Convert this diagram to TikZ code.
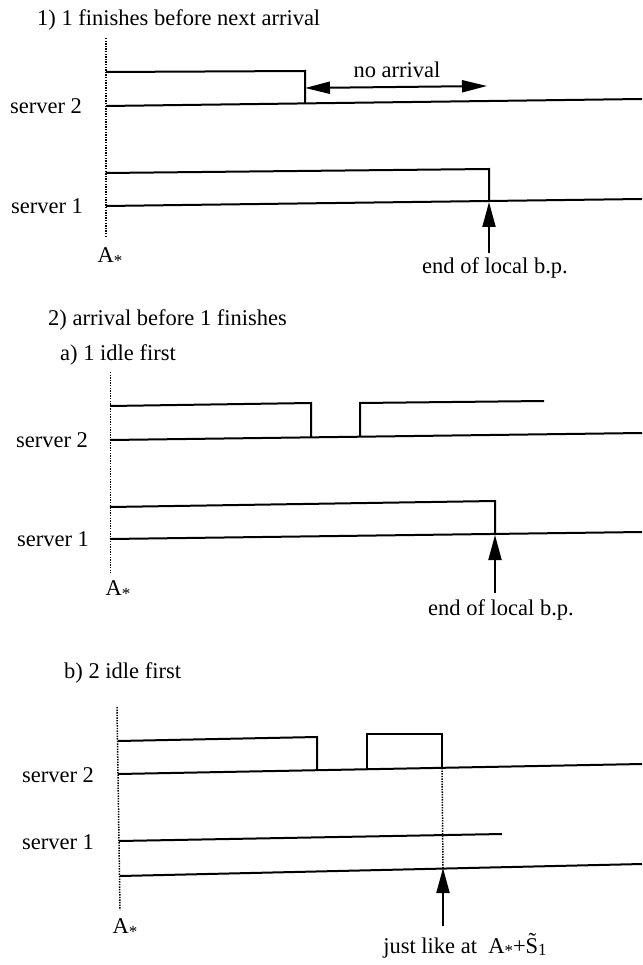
\documentclass[tikz,border=0pt]{standalone}
\usepackage{fontspec}
\setmainfont{Liberation Serif}
\usetikzlibrary{arrows.meta}
\begin{document}
\begin{tikzpicture}[x=1pt,y=-1pt,
  lbl/.style={font=\fontsize{22.5}{26}\selectfont, inner sep=0pt},
  sig/.style={line width=2pt, line join=miter},
  vdot/.style={line width=1.5pt, dash pattern=on 1.4pt off 1.2pt},
  uparr/.style={line width=2pt, -{Triangle[length=25pt,width=13pt]}},
  dblarr/.style={line width=2pt, {Triangle[length=25pt,width=12pt]}-{Triangle[length=25pt,width=12pt]}}]
\useasboundingbox (0,0) rectangle (642,965);
\newcommand{\astar}{A{\fontsize{17}{17}\selectfont\raisebox{-3.5pt}{*}}}

% ---------- panel 1 ----------
\node[lbl, anchor=west] (t1) at (37,20) {1) 1 finishes before next arrival};
\draw[vdot] (106,38) -- (106,238);
\node[lbl] (p1s2) at (46,106) {server 2};
\node[lbl] (p1s1) at (47,206) {server 1};
\node[lbl] (p1A) at (110,257) {\astar};
\draw[sig] (106,72) -- (305,71) -- (305,104);
\draw[sig] (106,106) -- (642,99);
\coordinate (p1na) at (305,88);
\coordinate (p1nb) at (487,86);
\draw[dblarr] (p1na) -- (p1nb);
\node[lbl] (p1no) at (397,70) {no arrival};
\draw[sig] (106,173) -- (489,169) -- (489,202) coordinate (p1e);
\draw[sig] (106,206) -- (642,199);
\node[lbl] (p1end) at (495,268) {end of local b.p.};
\coordinate (p1t) at (489,253);
\draw[uparr] (p1t) -- (p1e);

% ---------- panel 2 ----------
\node[lbl, anchor=west] (t2) at (48,320) {2) arrival before 1 finishes};
\node[lbl, anchor=west] (t2a) at (60,355) {a) 1 idle first};
\draw[vdot] (110.5,372) -- (110.5,573);
\node[lbl] (p2s2) at (52,440) {server 2};
\node[lbl] (p2s1) at (53,539) {server 1};
\node[lbl] (p2A) at (118,590) {\astar};
\draw[sig] (110,406) -- (311,403) -- (311,437);
\draw[sig] (360,437) -- (360,403) -- (544,401);
\draw[sig] (110,440) -- (642,433);
\draw[sig] (110,507) -- (495,501) -- (495,535) coordinate (p2e);
\draw[sig] (110,539) -- (642,532);
\node[lbl] (p2end) at (501,610) {end of local b.p.};
\coordinate (p2t) at (495,593);
\draw[uparr] (p2t) -- (p2e);

% ---------- panel 3 ----------
\node[lbl, anchor=west] (t2b) at (64,673) {b) 2 idle first};
\draw[vdot] (117,707) -- (120,910);
\node[lbl] (p3s2) at (58,775) {server 2};
\node[lbl] (p3s1) at (58,842) {server 1};
\node[lbl] (p3A) at (125,928) {\astar};
\draw[sig] (118,741) -- (317,737) -- (317,770);
\draw[sig] (367,769) -- (367,734) -- (442,734) -- (442,768) coordinate (p3d);
\draw[sig] (118,774) -- (642,764);
\draw[sig] (119,841) -- (502,834);
\draw[sig] (120,876) -- (642,864);
\coordinate (p3e) at (443,868);
\draw[vdot] (p3d) -- (p3e);
\node[lbl] (p3end) at (465,946) {just like at\ \ \astar+\~S{\fontsize{17}{17}\selectfont\raisebox{-2pt}{1}}};
\coordinate (p3t) at (443,926);
\draw[uparr] (p3t) -- (p3e);
\end{tikzpicture}
\end{document}
